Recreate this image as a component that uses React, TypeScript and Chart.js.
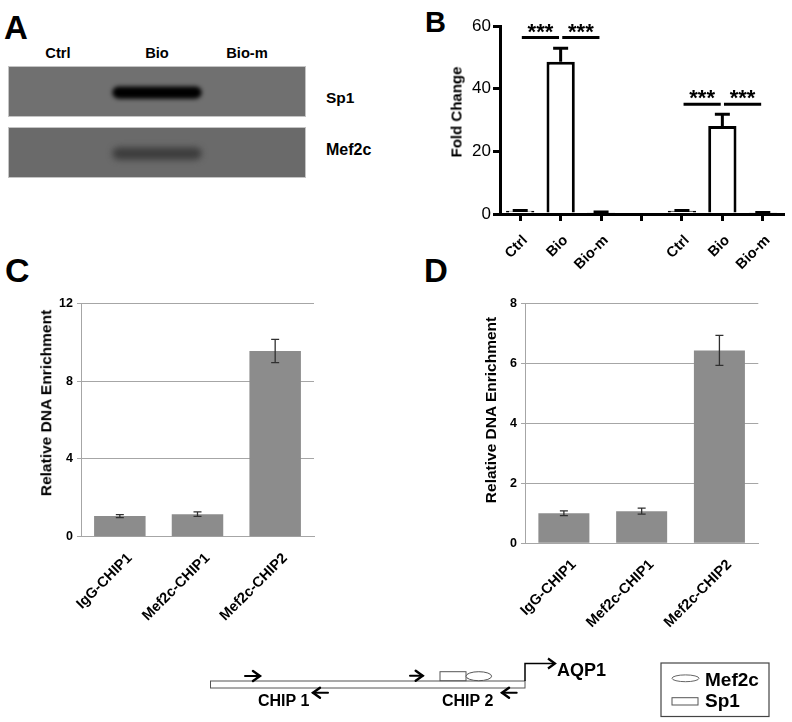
import React, { useEffect, useRef } from 'react';
import { Chart, registerables } from 'chart.js';
Chart.register(...registerables);

const FONT = "'Liberation Sans', Arial, Helvetica, sans-serif";

// ---------- Panel A (gel) ----------
const gelLanes = ['Ctrl', 'Bio', 'Bio-m'];
const gelRows = ['Sp1', 'Mef2c'];
const sp1Intensity = [0, 1, 0];
const mef2cIntensity = [0, 0.42, 0];
const bandLow = 0.36;
const bandHigh = 0.6;

// ---------- Panel B ----------
const bLabels = ['Ctrl', 'Bio', 'Bio-m', '', 'Ctrl', 'Bio', 'Bio-m'];
const bValues = [1.05, 48.6, 0.55, null, 1.0, 28.1, 0.4];
const bErrors = [0.1, 4.3, 0.1, null, 0.1, 3.7, 0.1];
const bTicks = [0, 20, 40, 60];
const bSigFrom = [0, 1, 4, 5];
const bSigTo = [1, 2, 5, 6];
const bSigLevel = [56.3, 56.3, 35, 35];
const bSigText = ['***', '***', '***', '***'];

// ---------- Panels C & D ----------
const chipLabels = ['IgG-CHIP1', 'Mef2c-CHIP1', 'Mef2c-CHIP2'];
const cValues = [1.06, 1.16, 9.55];
const cErrors = [0.08, 0.12, 0.6];
const cTicks = [0, 4, 8, 12];
const dValues = [1.0, 1.07, 6.43];
const dErrors = [0.08, 0.1, 0.5];
const dTicks = [0, 2, 4, 6, 8];

function mixGray(base: number, t: number) {
  const v = Math.round(base * (1 - t));
  return `rgb(${v},${v},${v})`;
}

function gelConfig(intensity: number[], base: number, blur: number): any {
  return {
    type: 'bar',
    data: {
      labels: gelLanes,
      datasets: [
        {
          data: gelLanes.map(() => [bandLow, bandHigh]),
          backgroundColor: intensity.map((t) => (t > 0 ? mixGray(base, t) : 'rgba(0,0,0,0)')),
          borderWidth: 0,
          borderRadius: 9,
          borderSkipped: false,
          barPercentage: 0.9,
          categoryPercentage: 1,
        },
      ],
    },
    options: {
      responsive: false,
      animation: false,
      layout: { padding: 0 },
      plugins: { legend: { display: false }, tooltip: { enabled: false } },
      scales: {
        x: { display: false },
        y: { display: false, min: 0, max: 1 },
      },
    },
    plugins: [
      {
        id: 'gelbg',
        beforeDraw(chart: any) {
          const { ctx, width, height } = chart;
          ctx.save();
          ctx.fillStyle = mixGray(base, 0);
          ctx.fillRect(0, 0, width, height);
          ctx.strokeStyle = '#c4c4c4';
          ctx.lineWidth = 1;
          ctx.strokeRect(0.5, 0.5, width - 1, height - 1);
          ctx.restore();
        },
        beforeDatasetsDraw(chart: any) {
          chart.ctx.save();
          chart.ctx.filter = `blur(${blur}px)`;
        },
        afterDatasetsDraw(chart: any) {
          chart.ctx.restore();
        },
      },
    ],
  };
}

function errorPlugin(errors: (number | null)[], color: string, width: number, capHalf: number, oneSided: boolean) {
  return {
    id: 'errbars',
    afterDatasetsDraw(chart: any) {
      const { ctx } = chart;
      const y = chart.scales.y;
      const meta = chart.getDatasetMeta(0);
      const data = chart.data.datasets[0].data as (number | null)[];
      ctx.save();
      ctx.strokeStyle = color;
      ctx.lineWidth = width;
      meta.data.forEach((bar: any, i: number) => {
        const v = data[i];
        const e = errors[i];
        if (v == null || e == null) return;
        const top = y.getPixelForValue(v + e);
        const bot = oneSided ? y.getPixelForValue(v) : y.getPixelForValue(v - e);
        ctx.beginPath();
        ctx.moveTo(bar.x, bot);
        ctx.lineTo(bar.x, top);
        ctx.moveTo(bar.x - capHalf, top);
        ctx.lineTo(bar.x + capHalf, top);
        if (!oneSided) {
          ctx.moveTo(bar.x - capHalf, bot);
          ctx.lineTo(bar.x + capHalf, bot);
        }
        ctx.stroke();
      });
      ctx.restore();
    },
  };
}

const sigPlugin = {
  id: 'sig',
  afterDatasetsDraw(chart: any) {
    const { ctx } = chart;
    const x = chart.scales.x;
    const y = chart.scales.y;
    ctx.save();
    bSigFrom.forEach((a, k) => {
      const xa = x.getPixelForValue(a);
      const xb = x.getPixelForValue(bSigTo[k]);
      const mid = (xa + xb) / 2;
      const half = (xb - xa) * 0.46;
      const py = y.getPixelForValue(bSigLevel[k]);
      ctx.strokeStyle = '#000';
      ctx.lineWidth = 3;
      ctx.beginPath();
      ctx.moveTo(mid - half, py);
      ctx.lineTo(mid + half, py);
      ctx.stroke();
      ctx.fillStyle = '#000';
      ctx.font = `bold 22px ${FONT}`;
      ctx.textAlign = 'center';
      ctx.textBaseline = 'alphabetic';
      ctx.fillText(bSigText[k], mid, py + 1);
    });
    ctx.restore();
  },
};

function bConfig(): any {
  return {
    type: 'bar',
    data: {
      labels: bLabels,
      datasets: [
        {
          data: bValues,
          backgroundColor: '#ffffff',
          borderColor: '#000000',
          borderWidth: 3,
          barPercentage: 0.7,
          categoryPercentage: 1,
        },
      ],
    },
    options: {
      responsive: false,
      animation: false,
      layout: { padding: { top: 26, right: 9, left: 0, bottom: 0 } },
      plugins: { legend: { display: false }, tooltip: { enabled: false } },
      scales: {
        x: {
          offset: true,
          afterFit(s: any) {
            s.height = 86;
          },
          grid: { display: true, offset: false, drawOnChartArea: false, drawTicks: true, tickLength: 7, lineWidth: 3, color: '#000' },
          border: { display: true, color: '#000', width: 3 },
          ticks: {
            autoSkip: false,
            minRotation: 45,
            maxRotation: 45,
            padding: 11,
            labelOffset: 5,
            color: '#000',
            font: { family: FONT, size: 14.5, weight: 'bold' },
          },
        },
        y: {
          min: bTicks[0],
          max: bTicks[bTicks.length - 1],
          afterFit(s: any) {
            s.width = 100;
          },
          grid: { display: true, drawOnChartArea: false, drawTicks: true, tickLength: 7, lineWidth: 3, color: '#000' },
          border: { display: true, color: '#000', width: 3 },
          ticks: {
            stepSize: bTicks[1] - bTicks[0],
            padding: 2,
            color: '#000',
            font: { family: FONT, size: 17, weight: 'normal' },
          },
        },
      },
    },
    plugins: [errorPlugin(bErrors, '#000', 3, 7.5, true), sigPlugin],
  };
}

function chipConfig(values: number[], errors: number[], ticks: number[], yWidth: number, xHeight: number, padRight: number, barPct: number): any {
  return {
    type: 'bar',
    data: {
      labels: chipLabels,
      datasets: [
        {
          data: values,
          backgroundColor: '#8c8c8c',
          borderWidth: 0,
          barPercentage: barPct,
          categoryPercentage: 1,
        },
      ],
    },
    options: {
      responsive: false,
      animation: false,
      layout: { padding: { top: 23.3, right: padRight, left: 0, bottom: 0 } },
      plugins: { legend: { display: false }, tooltip: { enabled: false } },
      scales: {
        x: {
          offset: true,
          afterFit(s: any) {
            s.height = xHeight;
          },
          grid: { display: false, drawTicks: false },
          border: { display: true, color: '#a6a6a6', width: 1 },
          ticks: {
            autoSkip: false,
            minRotation: 45,
            maxRotation: 45,
            padding: 13,
            labelOffset: 10,
            color: '#000',
            font: { family: FONT, size: 14.5, weight: 'bold' },
          },
        },
        y: {
          min: ticks[0],
          max: ticks[ticks.length - 1],
          afterFit(s: any) {
            s.width = yWidth;
          },
          grid: { display: true, drawOnChartArea: true, drawTicks: true, tickLength: 4, lineWidth: 1, color: '#a6a6a6' },
          border: { display: true, color: '#a6a6a6', width: 1 },
          ticks: {
            stepSize: ticks[1] - ticks[0],
            padding: 4,
            color: '#000',
            font: { family: FONT, size: 12.5, weight: 'bold' },
          },
        },
      },
    },
    plugins: [errorPlugin(errors, '#303030', 1.3, 4, false)],
  };
}

function ChartBox({ x, y, w, h, make }: { x: number; y: number; w: number; h: number; make: () => any }) {
  const ref = useRef<HTMLCanvasElement>(null);
  useEffect(() => {
    const c = new Chart(ref.current as HTMLCanvasElement, make());
    return () => c.destroy();
  }, []);
  return <canvas ref={ref} width={w} height={h} style={{ position: 'absolute', left: x, top: y, width: w, height: h }} />;
}

function Txt({ x, base, fs, bold = true, anchor = 'start', children }: { x: number; base: number; fs: number; bold?: boolean; anchor?: 'start' | 'middle'; children: React.ReactNode }) {
  return (
    <div
      style={{
        position: 'absolute',
        left: x,
        top: base - 0.8465 * fs,
        fontSize: fs,
        lineHeight: 1,
        fontWeight: bold ? 'bold' : 'normal',
        fontFamily: FONT,
        whiteSpace: 'nowrap',
        transform: anchor === 'middle' ? 'translateX(-50%)' : undefined,
        color: '#000',
      }}
    >
      {children}
    </div>
  );
}

function VTitle({ cx, cy, fs, children }: { cx: number; cy: number; fs: number; children: React.ReactNode }) {
  return (
    <div
      style={{
        position: 'absolute',
        left: cx,
        top: cy,
        fontSize: fs,
        lineHeight: 1,
        fontWeight: 'bold',
        fontFamily: FONT,
        whiteSpace: 'nowrap',
        transform: 'translate(-50%, -50%) rotate(-90deg)',
        color: '#000',
      }}
    >
      {children}
    </div>
  );
}

function Arrow({ x1, x2, y, dir }: { x1: number; x2: number; y: number; dir: 1 | -1 }) {
  const tip = dir === 1 ? x2 : x1;
  const back = tip - dir * 7;
  return (
    <g stroke="#000" strokeWidth={2} fill="none" strokeLinecap="round">
      <line x1={x1} y1={y} x2={x2} y2={y} />
      <polyline points={`${back},${y - 5} ${tip},${y} ${back},${y + 5}`} strokeWidth={2.4} />
    </g>
  );
}

export default function App() {
  const lanesX = [58, 157, 247];
  return (
    <div style={{ position: 'absolute', left: 0, top: 0, width: 792, height: 722, background: '#fff', overflow: 'hidden' }}>
      {/* Panel letters */}
      <Txt x={4} base={39} fs={33}>A</Txt>
      <Txt x={425} base={33} fs={29}>B</Txt>
      <Txt x={5} base={282} fs={34}>C</Txt>
      <Txt x={424} base={282} fs={33}>D</Txt>

      {/* Panel A */}
      {gelLanes.map((l, i) => (
        <Txt key={l} x={lanesX[i]} base={58.3} fs={14.7} anchor="middle">{l}</Txt>
      ))}
      <ChartBox x={8} y={66} w={298} h={51} make={() => gelConfig(sp1Intensity, 112, 2)} />
      <ChartBox x={8} y={127} w={298} h={51} make={() => gelConfig(mef2cIntensity, 106, 3)} />
      <Txt x={326} base={103} fs={15.5}>{gelRows[0]}</Txt>
      <Txt x={326} base={156} fs={16}>{gelRows[1]}</Txt>

      {/* Panel B */}
      <ChartBox x={400} y={0} w={392} h={300} make={bConfig} />
      <VTitle cx={456} cy={112} fs={15}>Fold Change</VTitle>

      {/* Panel C */}
      <ChartBox x={0} y={280} w={330} h={370} make={() => chipConfig(cValues, cErrors, cTicks, 81, 113.3, 16, 0.663)} />
      <VTitle cx={46} cy={403} fs={15.5}>Relative DNA Enrichment</VTitle>

      {/* Panel D */}
      <ChartBox x={400} y={280} w={392} h={370} make={() => chipConfig(dValues, dErrors, dTicks, 125, 106.7, 33.7, 0.656)} />
      <VTitle cx={491} cy={410} fs={15.5}>Relative DNA Enrichment</VTitle>

      {/* Schematic */}
      <svg width={792} height={722} style={{ position: 'absolute', left: 0, top: 0 }}>
        <rect x={210.5} y={681} width={314.5} height={7} fill="#fff" stroke="#555" strokeWidth={1} />
        <polyline points="525,681 525,663.5 554,663.5" fill="none" stroke="#000" strokeWidth={1.5} />
        <polyline points="548,658.5 555,663.5 548,668.5" fill="none" stroke="#000" strokeWidth={2.2} />
        <Arrow x1={245} x2={260} y={676} dir={1} />
        <Arrow x1={410} x2={422.7} y={675.7} dir={1} />
        <Arrow x1={313} x2={328} y={692.7} dir={-1} />
        <Arrow x1={502} x2={516.7} y={692.7} dir={-1} />
        <rect x={440} y={671.7} width={26} height={9} fill="#fff" stroke="#555" strokeWidth={1} />
        <ellipse cx={478.8} cy={676.2} rx={12.8} ry={4.5} fill="#fff" stroke="#555" strokeWidth={1} />
        <rect x={661} y={663} width={108} height={53.5} fill="#fff" stroke="#444" strokeWidth={1.2} />
        <ellipse cx={685.5} cy={678.3} rx={13.5} ry={3.4} fill="#fff" stroke="#666" strokeWidth={1} />
        <rect x={672} y={697.7} width={26} height={7.3} fill="#fff" stroke="#555" strokeWidth={1} />
      </svg>
      <Txt x={258} base={706.7} fs={16}>CHIP 1</Txt>
      <Txt x={442} base={707} fs={16}>CHIP 2</Txt>
      <Txt x={557} base={676.7} fs={18}>AQP1</Txt>
      <Txt x={705} base={686} fs={19}>{gelRows[1]}</Txt>
      <Txt x={705} base={706.7} fs={19}>{gelRows[0]}</Txt>
    </div>
  );
}
